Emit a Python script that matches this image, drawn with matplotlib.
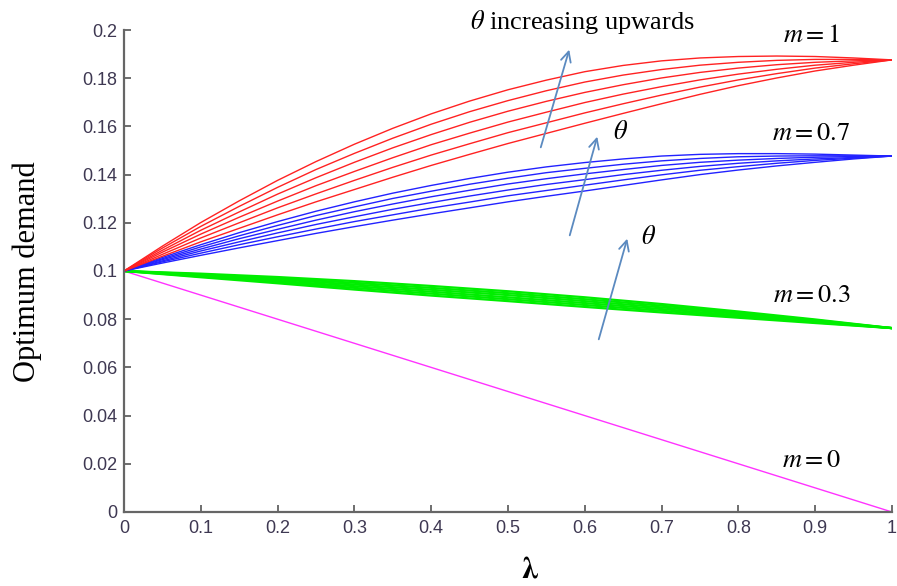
import matplotlib
matplotlib.use("Agg")
import matplotlib.pyplot as plt

plt.rcParams['mathtext.fontset'] = 'stix'

lam_fine = [0.0, 0.05, 0.1, 0.15, 0.2, 0.25, 0.3, 0.35, 0.4, 0.45, 0.5,
            0.55, 0.6, 0.65, 0.7, 0.75, 0.8, 0.85, 0.9, 0.95, 1.0]
lam = [0.0, 0.1, 0.2, 0.3, 0.4, 0.5, 0.6, 0.7, 0.8, 0.9, 1.0]

# m = 1 (red), theta increasing upwards
red_curves = [
    [0.1, 0.1103, 0.1201, 0.1291, 0.1376, 0.1454, 0.1526, 0.1592, 0.1652, 0.1705, 0.1752,
     0.1792, 0.1827, 0.1853, 0.1872, 0.1884, 0.1890, 0.1892, 0.1890, 0.1884, 0.1876],
    [0.1, 0.1095, 0.1185, 0.1268, 0.1347, 0.1421, 0.1488, 0.1551, 0.1609, 0.1661, 0.1707,
     0.1748, 0.1784, 0.1813, 0.1836, 0.1854, 0.1866, 0.1874, 0.1878, 0.1878, 0.1876],
    [0.1, 0.1086, 0.1169, 0.1245, 0.1319, 0.1387, 0.1451, 0.1511, 0.1566, 0.1617, 0.1663,
     0.1704, 0.1741, 0.1773, 0.1801, 0.1824, 0.1842, 0.1856, 0.1866, 0.1872, 0.1876],
    [0.1, 0.1078, 0.1153, 0.1223, 0.1290, 0.1354, 0.1413, 0.1470, 0.1524, 0.1572, 0.1618,
     0.1659, 0.1699, 0.1734, 0.1765, 0.1793, 0.1817, 0.1837, 0.1854, 0.1866, 0.1876],
    [0.1, 0.1069, 0.1137, 0.1200, 0.1262, 0.1320, 0.1376, 0.1430, 0.1481, 0.1528, 0.1574,
     0.1615, 0.1656, 0.1694, 0.1730, 0.1763, 0.1793, 0.1819, 0.1842, 0.1860, 0.1876],
    [0.1, 0.1061, 0.1121, 0.1177, 0.1233, 0.1287, 0.1338, 0.1389, 0.1438, 0.1484, 0.1529,
     0.1571, 0.1613, 0.1654, 0.1694, 0.1733, 0.1769, 0.1801, 0.1830, 0.1854, 0.1876],
]
# m = 0.7 (blue)
blue_curves = [
    [0.1, 0.1056, 0.1109, 0.1159, 0.1205, 0.1248, 0.1287, 0.1323, 0.1355, 0.1384, 0.1410,
     0.1432, 0.1450, 0.1465, 0.1477, 0.1484, 0.1487, 0.1487, 0.1485, 0.1481, 0.1477],
    [0.1, 0.1051, 0.1100, 0.1146, 0.1189, 0.1230, 0.1266, 0.1301, 0.1331, 0.1360, 0.1385,
     0.1408, 0.1426, 0.1443, 0.1457, 0.1467, 0.1474, 0.1477, 0.1478, 0.1478, 0.1477],
    [0.1, 0.1047, 0.1091, 0.1134, 0.1173, 0.1211, 0.1246, 0.1278, 0.1308, 0.1335, 0.1361,
     0.1383, 0.1403, 0.1421, 0.1438, 0.1451, 0.1460, 0.1467, 0.1472, 0.1475, 0.1477],
    [0.1, 0.1042, 0.1083, 0.1121, 0.1158, 0.1193, 0.1225, 0.1256, 0.1284, 0.1311, 0.1336,
     0.1359, 0.1379, 0.1400, 0.1418, 0.1434, 0.1447, 0.1457, 0.1465, 0.1471, 0.1477],
    [0.1, 0.1038, 0.1074, 0.1109, 0.1142, 0.1174, 0.1205, 0.1233, 0.1261, 0.1286, 0.1312,
     0.1334, 0.1356, 0.1378, 0.1399, 0.1418, 0.1433, 0.1447, 0.1459, 0.1468, 0.1477],
    [0.1, 0.1033, 0.1065, 0.1096, 0.1126, 0.1156, 0.1184, 0.1211, 0.1237, 0.1262, 0.1287,
     0.1310, 0.1332, 0.1355, 0.1378, 0.1400, 0.1419, 0.1436, 0.1451, 0.1465, 0.1477],
]
# m = 0.3 (green)
green_curves = [
    [0.1, 0.0989, 0.0975, 0.0958, 0.0938, 0.0916, 0.0891, 0.0863, 0.0832, 0.0799, 0.0763],
    [0.1, 0.0986, 0.0970, 0.0951, 0.0930, 0.0908, 0.0883, 0.0856, 0.0827, 0.0796, 0.0763],
    [0.1, 0.0983, 0.0965, 0.0944, 0.0922, 0.0900, 0.0875, 0.0849, 0.0822, 0.0793, 0.0763],
    [0.1, 0.0980, 0.0959, 0.0937, 0.0914, 0.0891, 0.0867, 0.0842, 0.0816, 0.0790, 0.0763],
    [0.1, 0.0977, 0.0954, 0.0930, 0.0906, 0.0883, 0.0859, 0.0835, 0.0811, 0.0787, 0.0763],
    [0.1, 0.0974, 0.0949, 0.0923, 0.0898, 0.0875, 0.0851, 0.0828, 0.0806, 0.0784, 0.0763],
]
# m = 0 (magenta)
magenta_curve = [0.1, 0.09, 0.08, 0.07, 0.06, 0.05, 0.04, 0.03, 0.02, 0.01, 0.0]

xticks = [0, 0.1, 0.2, 0.3, 0.4, 0.5, 0.6, 0.7, 0.8, 0.9, 1]
xticklabels = ['0', '0.1', '0.2', '0.3', '0.4', '0.5', '0.6', '0.7', '0.8', '0.9', '1']
yticks = [0, 0.02, 0.04, 0.06, 0.08, 0.1, 0.12, 0.14, 0.16, 0.18, 0.2]
yticklabels = ['0', '0.02', '0.04', '0.06', '0.08', '0.1', '0.12', '0.14', '0.16', '0.18', '0.2']

fig = plt.figure(figsize=(8.97, 5.86), dpi=100)
ax = fig.add_axes([0.1382, 0.1263, 0.8562, 0.8225])

ax.plot(lam, magenta_curve, color='#ff33ff', lw=1.0)
for c in green_curves:
    ax.plot(lam, c, color='#00ee00', lw=1.6)
for c in blue_curves:
    ax.plot(lam_fine, c, color='#2222ff', lw=1.0)
for c in red_curves:
    ax.plot(lam_fine, c, color='#ff2222', lw=1.0)

ax.set_xlim(0, 1)
ax.set_ylim(0, 0.2)
ax.set_xticks(xticks)
ax.set_xticklabels(xticklabels)
ax.set_yticks(yticks)
ax.set_yticklabels(yticklabels)
for s in ['top', 'right']:
    ax.spines[s].set_visible(False)
for s in ['left', 'bottom']:
    ax.spines[s].set_color('#666666')
    ax.spines[s].set_linewidth(1.6)
ax.tick_params(direction='in', length=5, width=1.2, color='#555555',
               labelcolor='#3e3852', labelsize=13)
for t in ax.get_xticklabels() + ax.get_yticklabels():
    t.set_fontfamily('Liberation Sans')
ax.tick_params(axis='x', pad=6)
ax.tick_params(axis='y', pad=5)

fig.text(0.030, 1 - 272 / 586, 'Optimum demand', rotation=90, ha='center', va='center',
         fontsize=22, family='Liberation Serif')
fig.text(530 / 897, 1 - 584 / 586, r'$\mathbf{\lambda}$', ha='center', va='bottom',
         fontsize=22)

tfs = 19
ax.annotate(r'$\theta$ increasing upwards', xy=(470 / 897, 1 - 22 / 586),
            xycoords='figure fraction', ha='left', va='center', fontsize=tfs,
            family='Liberation Serif')
ax.annotate(r'$m=1$', xy=(812 / 897, 1 - 35 / 586), xycoords='figure fraction',
            ha='center', va='center', fontsize=tfs)
ax.annotate(r'$m=0.7$', xy=(811 / 897, 1 - 133 / 586), xycoords='figure fraction',
            ha='center', va='center', fontsize=tfs)
ax.annotate(r'$m=0.3$', xy=(812 / 897, 1 - 295 / 586), xycoords='figure fraction',
            ha='center', va='center', fontsize=tfs)
ax.annotate(r'$m=0$', xy=(812 / 897, 1 - 460 / 586), xycoords='figure fraction',
            ha='center', va='center', fontsize=tfs)
ax.annotate(r'$\theta$', xy=(621 / 897, 1 - 132 / 586), xycoords='figure fraction',
            ha='center', va='center', fontsize=tfs)
ax.annotate(r'$\theta$', xy=(649 / 897, 1 - 237 / 586), xycoords='figure fraction',
            ha='center', va='center', fontsize=tfs)

arrow_style = dict(arrowstyle='->', color='#5b8ac0', lw=1.3, mutation_scale=18)
arrows = [((540, 150), (570, 47)), ((569, 238), (598, 134)), ((598, 342), (628, 236))]
for (x0, y0), (x1, y1) in arrows:
    ax.annotate('', xy=(x1 / 897, 1 - y1 / 586), xytext=(x0 / 897, 1 - y0 / 586),
                xycoords='figure fraction', textcoords='figure fraction',
                arrowprops=arrow_style)

fig.savefig('out.png', dpi=100)
